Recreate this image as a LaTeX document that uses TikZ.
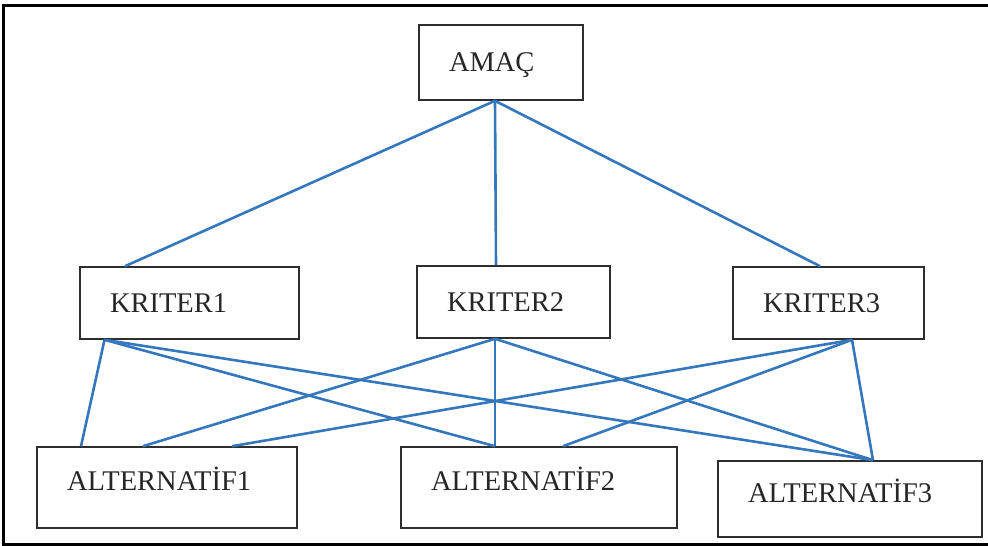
\documentclass[tikz,border=0pt]{standalone}
\usepackage{fontspec}
\setmainfont{Liberation Serif}
\usepackage{tikz}
\usetikzlibrary{positioning}
\definecolor{LinkBlue}{HTML}{3577BC}
\definecolor{BoxGray}{HTML}{2E2E2E}

\begin{document}
\begin{tikzpicture}[x=1pt, y=-1pt,
    box/.style={draw=BoxGray, line width=1.6pt, rectangle, inner xsep=30pt, align=left,
        font=\fontsize{28.5}{34}\selectfont, text=black!85,
        text height=18.9pt, text depth=0pt, minimum height=72pt},
    altbox/.style={box, text depth=12.8pt, minimum height=81pt},
    link/.style={draw=LinkBlue, line width=2.6pt}]
    \useasboundingbox (0,0) rectangle (988,546);
    % Frame
    \draw[line width=3.5pt] (3.5,5.5) rectangle (995,544.5);

    % Goal
    \node[box, text width=104pt, minimum height=75pt] (amac) at (501,62.5) {AMAÇ};

    % Criteria
    \node[box, text width=159pt] (k1) at (189.5,303) {KRITER1};
    \node[box, text width=133pt] (k2) at (513.5,302) {KRITER2};
    \node[box, text width=131pt] (k3) at (828.5,303) {KRITER3};

    % Alternatives
    \node[altbox, text width=200pt] (a1) at (167,487.5) {ALTERNATİF1};
    \node[altbox, text width=216pt] (a2) at (539,487.5) {ALTERNATİF2};
    \node[altbox, text width=204pt, minimum height=76pt] (a3) at (850,499) {ALTERNATİF3};

    % Goal to criteria
    \foreach \k/\ks in {k1/-64.5, k2/-17.5, k3/-8.5} {
        \draw[link] ([xshift=-6pt]amac.south) -- ([xshift=\ks pt]\k.north);
    }

    % Criteria to alternatives
    \foreach \k/\ks/\a/\as in {k1/-85/a1/-86, k1/-85/a2/-44, k1/-85/a3/23,
                               k2/-18.5/a1/-24, k2/-18.5/a2/-44, k2/-18.5/a3/23,
                               k3/23.5/a1/65, k3/23.5/a2/24, k3/23.5/a3/23} {
        \draw[link] ([xshift=\ks pt]\k.south) -- ([xshift=\as pt]\a.north);
    }
\end{tikzpicture}
\end{document}
